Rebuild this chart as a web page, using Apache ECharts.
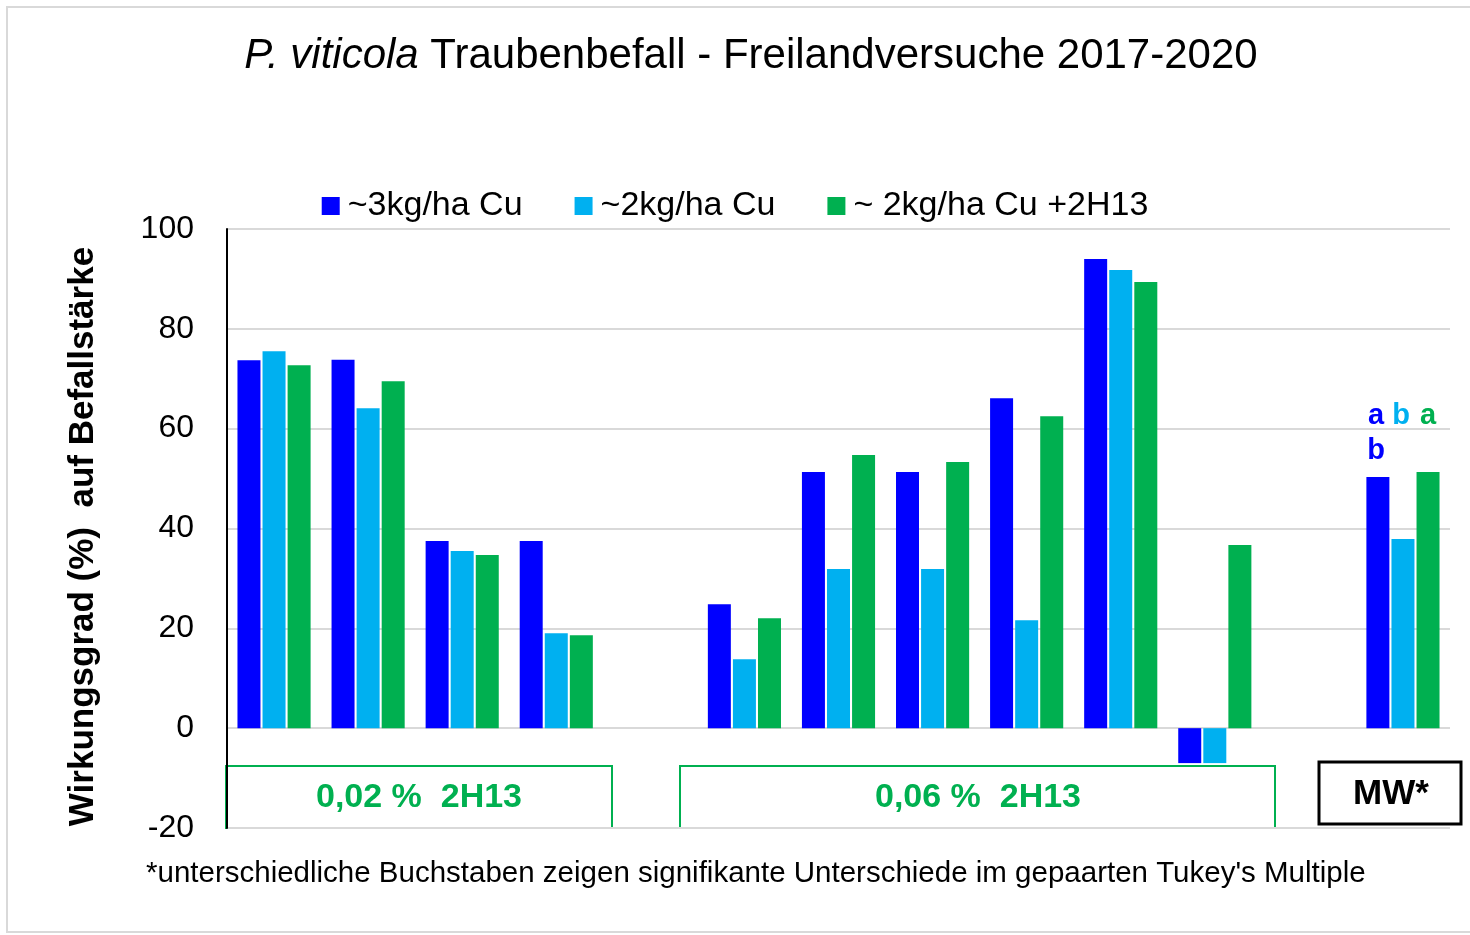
<!DOCTYPE html>
<html>
<head>
    <meta charset="utf-8">
    <title>P. viticola Traubenbefall</title>
    <script src="https://cdn.jsdelivr.net/npm/echarts@6/dist/echarts.min.js"></script>
    <style>
        html, body { margin: 0; padding: 0; background: #fff; }
    </style>
</head>
<body>
    <div id="chart" style="width: 1470px;height:935px;"></div>
    <script type="text/javascript">
        // Daten
        var categories = ['1', '2', '3', '4', '', '5', '6', '7', '8', '9', '10', '', 'MW'];
        var cu3 = [73.7, 73.8, 37.5, 37.5, null, 24.8, 51.3, 51.3, 66.1, 94.0, -7.0, null, 50.3];
        var cu2 = [75.5, 64.1, 35.5, 19.0, null, 13.8, 31.9, 31.9, 21.6, 91.8, -7.0, null, 37.9];
        var cu2h13 = [72.7, 69.5, 34.7, 18.6, null, 22.0, 54.7, 53.3, 62.5, 89.4, 36.7, null, 51.3];
        var seriesNames = ['~3kg/ha Cu', '~2kg/ha Cu', '~ 2kg/ha Cu +2H13'];
        var colors = ['#0000FF', '#00B0F0', '#00B050'];
        var yTicks = [-20, 0, 20, 40, 60, 80, 100];

        var font = '"Liberation Sans", Arial, sans-serif';
        var chart = echarts.init(document.getElementById('chart'));

        function bar(name, data, color) {
            return {
                name: name,
                type: 'bar',
                data: data,
                barWidth: 23,
                barGap: '9%',
                itemStyle: { color: color }
            };
        }

        chart.setOption({
            animation: false,
            textStyle: { fontFamily: font },
            title: {
                text: '{i|P. viticola} Traubenbefall - Freilandversuche 2017-2020',
                left: 746,
                textAlign: 'center',
                top: 30,
                textStyle: {
                    fontFamily: font,
                    fontSize: 42,
                    fontWeight: 'normal',
                    color: '#000',
                    rich: {
                        i: { fontFamily: font, fontSize: 42, fontStyle: 'italic', color: '#000' }
                    }
                }
            },
            legend: {
                data: seriesNames,
                top: 184,
                left: 'center',
                itemWidth: 18,
                itemHeight: 18,
                itemGap: 52,
                icon: 'rect',
                textStyle: { fontFamily: font, fontSize: 34, color: '#000', padding: [0, 0, 0, 3] }
            },
            grid: { left: 227, right: 20, top: 229, bottom: 107 },
            xAxis: {
                type: 'category',
                data: categories,
                axisLine: { show: false },
                axisTick: { show: false },
                axisLabel: { show: false }
            },
            yAxis: {
                type: 'value',
                min: yTicks[0],
                max: yTicks[yTicks.length - 1],
                interval: 20,
                name: 'Wirkungsgrad (%)  auf Befallstärke',
                nameLocation: 'middle',
                nameGap: 126,
                nameTextStyle: { fontFamily: font, fontSize: 35, fontWeight: 'bold', color: '#000', padding: [0, 16, 0, 0] },
                axisLine: { show: true, lineStyle: { color: '#000', width: 2 } },
                axisTick: { show: false },
                axisLabel: { fontFamily: font, fontSize: 32, color: '#000', margin: 33 },
                splitLine: { lineStyle: { color: '#d9d9d9', width: 2 } }
            },
            series: [
                bar(seriesNames[0], cu3, colors[0]),
                bar(seriesNames[1], cu2, colors[1]),
                bar(seriesNames[2], cu2h13, colors[2])
            ],
            graphic: [
                { type: 'rect', shape: { x: 7, y: 7, width: 1470, height: 925 }, style: { fill: 'none', stroke: '#d9d9d9', lineWidth: 2 } },
                { type: 'rect', shape: { x: 226, y: 766, width: 386, height: 62 }, style: { fill: '#fff', stroke: '#00B050', lineWidth: 2 } },
                { type: 'text', x: 419, y: 798, style: { text: '0,02 %  2H13', font: 'bold 34px ' + font, fill: '#00B050', align: 'center', verticalAlign: 'middle' } },
                { type: 'rect', shape: { x: 680, y: 766, width: 595, height: 62 }, style: { fill: '#fff', stroke: '#00B050', lineWidth: 2 } },
                { type: 'text', x: 978, y: 798, style: { text: '0,06 %  2H13', font: 'bold 34px ' + font, fill: '#00B050', align: 'center', verticalAlign: 'middle' } },
                { type: 'rect', shape: { x: 1319, y: 762, width: 142, height: 62 }, style: { fill: '#fff', stroke: '#000', lineWidth: 3 } },
                { type: 'text', x: 1391, y: 794, style: { text: 'MW*', font: 'bold 35px ' + font, fill: '#000', align: 'center', verticalAlign: 'middle' } },
                { type: 'text', x: 1376, y: 416, style: { text: 'a', font: 'bold 29px ' + font, fill: colors[0], align: 'center', verticalAlign: 'middle' } },
                { type: 'text', x: 1401, y: 416, style: { text: 'b', font: 'bold 29px ' + font, fill: colors[1], align: 'center', verticalAlign: 'middle' } },
                { type: 'text', x: 1428, y: 416, style: { text: 'a', font: 'bold 29px ' + font, fill: colors[2], align: 'center', verticalAlign: 'middle' } },
                { type: 'text', x: 1376, y: 451, style: { text: 'b', font: 'bold 29px ' + font, fill: colors[0], align: 'center', verticalAlign: 'middle' } },
                { type: 'text', x: 146, y: 874, style: { text: "*unterschiedliche Buchstaben zeigen signifikante Unterschiede im gepaarten Tukey's Multiple", font: '29.5px ' + font, fill: '#000', align: 'left', verticalAlign: 'middle' } }
            ]
        });
    </script>
</body>
</html>
